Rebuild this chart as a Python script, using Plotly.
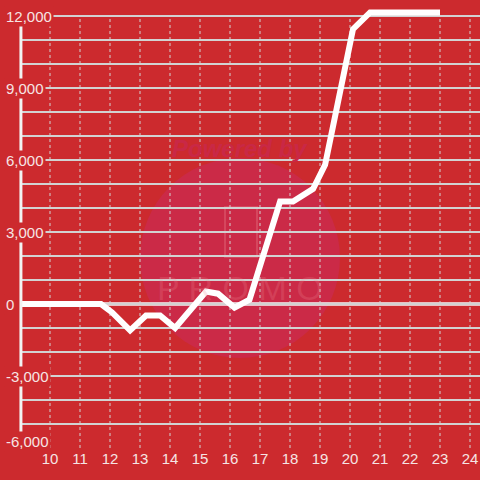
import plotly.graph_objects as go

# data
hours = [9, 11.7, 12.07, 12.67, 13.2, 13.67, 14.17, 15.2, 15.6, 16.15, 16.65,
         17.67, 18.1, 18.77, 19.17, 20.1, 20.67, 23.0]
values = [0, 0, -350, -1100, -480, -480, -1000, 520, 430, -150, 180,
          4270, 4270, 4800, 5800, 11450, 12150, 12150]
x_ticks = list(range(10, 25))
y_ticks = [-6000, -3000, 0, 3000, 6000, 9000, 12000]
y_tick_labels = ["-6,000", "-3,000", "0", "3,000", "6,000", "9,000", "12,000"]

BG = "#cc2a2e"
GRID = "#d2d2d2"
TXT = "#f6e4e4"
FONT = "Liberation Sans, Arial, sans-serif"

fig = go.Figure()
fig.add_trace(go.Scatter(x=hours, y=values, mode="lines",
                         line=dict(color="white", width=6),
                         hoverinfo="skip", showlegend=False))

shapes = []
# watermark
shapes.append(dict(type="circle", xref="paper", yref="paper", layer="below",
                   x0=(140-20)/460, x1=(340-20)/460, y0=1-(358/448), y1=1-(158/448),
                   fillcolor="#cb2a47", line=dict(width=0)))
shapes.append(dict(type="rect", xref="paper", yref="paper", layer="below",
                   x0=(225-20)/460, x1=(257-20)/460, y0=1-(257/448), y1=1-(207/448),
                   line=dict(color="rgba(240,140,150,0.3)", width=2)))
# vertical dotted grid
for t in x_ticks:
    shapes.append(dict(type="line", xref="x", yref="y", x0=t, x1=t,
                       y0=-6000, y1=12000, layer="below",
                       line=dict(color=GRID, width=1, dash="dot")))
# zero line
shapes.append(dict(type="line", xref="paper", yref="y", x0=0, x1=1, y0=0, y1=0,
                   layer="below", line=dict(color="#f4f4f4", width=3.5)))
# y axis line
shapes.append(dict(type="line", xref="paper", yref="y", x0=0.002, x1=0.002,
                   y0=-6000, y1=12000, layer="above",
                   line=dict(color="#f2f2f2", width=3)))

annotations = []
for v, lab in zip(y_ticks, y_tick_labels):
    yy = v + 290 if v == -6000 else v
    annotations.append(dict(xref="paper", yref="y", x=(4-20)/460, y=yy,
                            xanchor="left", yanchor="middle", text=lab,
                            showarrow=False, bgcolor=BG, borderpad=1,
                            font=dict(family=FONT, size=15, color=TXT)))
annotations.append(dict(xref="paper", yref="paper", x=(240-20)/460, y=1-(133/448),
                        text="<b><i>Powered by</i></b>", showarrow=False,
                        font=dict(family=FONT, size=24, color="#c92846")))
annotations.append(dict(xref="paper", yref="paper", x=(240-20)/460, y=1-(288/448),
                        text="P R O M O", showarrow=False,
                        font=dict(family=FONT, size=34, color="rgba(240,140,150,0.22)")))

fig.update_layout(
    width=480, height=480,
    margin=dict(l=20, r=0, t=0, b=32, autoexpand=False),
    paper_bgcolor=BG, plot_bgcolor=BG,
    shapes=shapes, annotations=annotations,
    xaxis=dict(range=[9, 24.3333], tickvals=x_ticks, showgrid=False,
               zeroline=False, showline=False, ticks="", automargin=False,
               tickfont=dict(family=FONT, size=15, color=TXT)),
    yaxis=dict(range=[-6000, 12666.7], dtick=1000, tick0=0, showgrid=True,
               gridcolor=GRID, gridwidth=1.5, zeroline=False, showline=False,
               showticklabels=False, ticks="", automargin=False),
)
fig.write_html("out.html", config={"displayModeBar": False, "staticPlot": True},
               post_script="document.body.style.margin='0';document.body.style.background='%s';" % BG)
